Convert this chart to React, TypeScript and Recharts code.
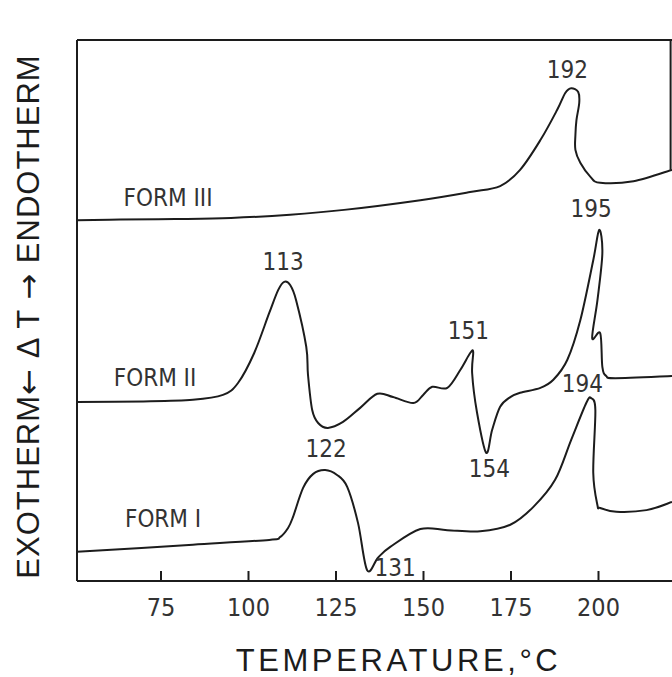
import React from "react"
import { LineChart, Line, XAxis, YAxis, ReferenceLine, ReferenceDot } from "recharts"

// temperature in °C, ΔT in arbitrary units (0 = bottom axis, 100 = top frame)
const form3Temp = [51, 63.3, 79, 95.0, 111.9, 127.3, 149.1, 163.3, 171.9, 177.6, 183.4, 188.2, 190.5, 192.2, 194.2, 194.5, 193.7, 193.4, 193.4, 194.8, 197.7, 200.5, 210.0, 221]
const form3Dt = [66.7, 66.8, 66.9, 67.1, 67.7, 68.6, 70.4, 71.9, 73.0, 76.0, 81.5, 87.1, 90.2, 91.1, 90.4, 88.4, 85.2, 82.4, 79.7, 77.3, 74.7, 73.6, 73.9, 76.0]

const form2Temp = [51, 70, 84.1, 92.7, 97.0, 101.6, 105.9, 108.5, 110.2, 111.9, 113.6, 116.5, 117.0, 118.2, 119.9, 122.7, 127.0, 131.9, 136.8, 141.3, 147.1, 149.9, 152.5, 156.8, 160.5, 163.3, 164.2, 163.9, 165.3, 167.9, 169.6, 171.9, 174.8, 177.6, 183.4, 187.1, 191.1, 194.8, 198.5, 200.2, 201.1, 199.7, 198.2, 200.5, 201.1, 202.2, 204.8, 221]
const form2Dt = [33.1, 33.2, 33.5, 34.4, 36.6, 42.1, 49.5, 53.8, 55.3, 54.7, 51.9, 43.3, 38.1, 31.6, 29.2, 28.3, 29.4, 32.0, 34.6, 34.0, 32.9, 34.4, 35.9, 35.7, 39.0, 42.1, 42.3, 38.4, 31.1, 23.7, 27.9, 32.2, 34.0, 34.8, 35.7, 37.2, 40.9, 48.2, 59.3, 64.9, 60.6, 51.9, 44.9, 45.8, 39.6, 37.9, 37.5, 37.9]

const form1Temp = [51, 84.1, 105.9, 109.0, 111.3, 112.7, 115.6, 118.5, 121.9, 125.3, 128.2, 131.3, 133.9, 137.0, 140.5, 149.1, 156.8, 166.2, 174.8, 181.4, 187.6, 192.2, 196.5, 197.9, 199.1, 198.5, 199.7, 200.5, 205.1, 213.7, 221]
const form1Dt = [5.4, 6.7, 7.6, 8.1, 9.8, 11.8, 17.2, 19.8, 20.5, 19.6, 17.4, 10.7, 2.0, 4.3, 6.3, 9.6, 9.4, 9.2, 10.4, 13.7, 18.7, 26.1, 32.9, 33.8, 31.6, 20.0, 14.0, 13.5, 12.8, 13.1, 14.6]

const tempTicks = [75, 100, 125, 150, 175, 200]

// peak annotations
const peakText = ["192", "195", "113", "151", "154", "194", "122", "131"]
const peakTemp = [191.1, 197.9, 109.9, 162.8, 168.8, 195.4, 122.2, 141.9]
const peakDt = [94.6, 68.8, 59.0, 46.4, 20.9, 36.6, 24.6, 2.6]

const formNames = ["FORM III", "FORM II", "FORM I"]
const formTemp = [77.0, 73.3, 75.6]
const formDt = [71.0, 37.7, 11.5]

const toPoints = (temps: number[], dts: number[]) => temps.map((t, i) => ({ t, dt: dts[i] }))

const form3 = toPoints(form3Temp, form3Dt)
const form2 = toPoints(form2Temp, form2Dt)
const form1 = toPoints(form1Temp, form1Dt)

const ink = "#1c1c1c"
const narrow = "'Liberation Sans Narrow', 'DejaVu Sans Condensed', 'Liberation Sans', sans-serif"
const plain = "'Liberation Sans', Arial, sans-serif"

// smooth curve through the points; the traces double back on x, so monotone won't do
function catmullRom(context: any) {
  let pts: number[][] = []
  return {
    areaStart() {},
    areaEnd() {},
    lineStart() { pts = [] },
    point(x: number, y: number) { pts.push([x, y]) },
    lineEnd() {
      if (!pts.length) return
      context.moveTo(pts[0][0], pts[0][1])
      for (let i = 0; i < pts.length - 1; i++) {
        const p0 = pts[i - 1] || pts[i]
        const p1 = pts[i]
        const p2 = pts[i + 1]
        const p3 = pts[i + 2] || p2
        context.bezierCurveTo(
          p1[0] + (p2[0] - p0[0]) / 6, p1[1] + (p2[1] - p0[1]) / 6,
          p2[0] - (p3[0] - p1[0]) / 6, p2[1] - (p3[1] - p1[1]) / 6,
          p2[0], p2[1]
        )
      }
    },
  }
}

function TempTick({ x, y, payload }: any) {
  return (
    <g>
      <line x1={x} x2={x} y1={y} y2={y - 10} stroke={ink} strokeWidth={2} />
      <text x={x} y={y + 35} textAnchor="middle" fontFamily={narrow} fontSize={25} fill="#333">
        {payload.value}
      </text>
    </g>
  )
}

function xTitle({ viewBox }: any) {
  return (
    <text x={viewBox.x + viewBox.width / 2 + 24} y={viewBox.y + 90} textAnchor="middle"
      fontFamily={plain} fontSize={31} letterSpacing={3.6} fill={ink}>
      TEMPERATURE,°C
    </text>
  )
}

function yTitle({ viewBox }: any) {
  const cx = viewBox.x + 28
  const cy = viewBox.y + viewBox.height / 2 + 6
  return (
    <text x={cx} y={cy} transform={`rotate(-90, ${cx}, ${cy})`} textAnchor="middle"
      dominantBaseline="central" fontFamily={plain} fontSize={31} letterSpacing={1} fill={ink}>
      EXOTHERM<tspan fontFamily="'DejaVu Sans'">←</tspan> Δ T <tspan fontFamily="'DejaVu Sans'">→</tspan> ENDOTHERM
    </text>
  )
}

const label = (s: string) => (p: any) => (
  <text x={p.cx} y={p.cy} dy="0.36em" textAnchor="middle" fontFamily={narrow} fontSize={24} fill="#333">{s}</text>
)

export default function App() {
  return (
    <div style={{ position: "absolute", left: 0, top: 0, width: 672, height: 677, background: "#fff" }}>
      <LineChart width={672} height={677} margin={{ top: 40, right: 0, bottom: 0, left: 0 }}>
        <XAxis
          dataKey="t"
          type="number"
          domain={[51, 221]}
          allowDataOverflow
          ticks={tempTicks}
          height={96}
          tickSize={0}
          tickMargin={0}
          tickLine={false}
          tick={<TempTick />}
          axisLine={{ stroke: ink, strokeWidth: 2 }}
          label={xTitle}
        />
        <YAxis
          type="number"
          domain={[0, 100]}
          width={77}
          tick={false}
          tickLine={false}
          axisLine={{ stroke: ink, strokeWidth: 2 }}
          label={yTitle}
        />
        <ReferenceLine y={100} stroke={ink} strokeWidth={2} />
        <ReferenceLine segment={[{ x: 220.6, y: 100 }, { x: 220.6, y: 76 }]} stroke={ink} strokeWidth={2} />

        <Line data={form3} dataKey="dt" type={catmullRom as any} stroke={ink} strokeWidth={2} dot={false} isAnimationActive={false} />
        <Line data={form2} dataKey="dt" type={catmullRom as any} stroke={ink} strokeWidth={2} dot={false} isAnimationActive={false} />
        <Line data={form1} dataKey="dt" type={catmullRom as any} stroke={ink} strokeWidth={2} dot={false} isAnimationActive={false} />

        {peakText.map((s, i) => (
          <ReferenceDot key={s + i} x={peakTemp[i]} y={peakDt[i]} r={0} ifOverflow="visible" shape={label(s)} />
        ))}
        {formNames.map((s, i) => (
          <ReferenceDot key={s} x={formTemp[i]} y={formDt[i]} r={0} ifOverflow="visible" shape={label(s)} />
        ))}
      </LineChart>
    </div>
  )
}
